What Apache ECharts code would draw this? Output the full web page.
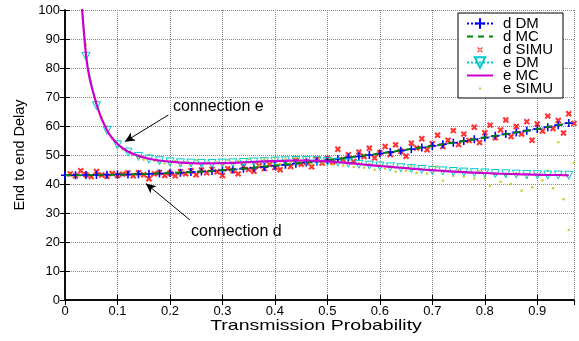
<!DOCTYPE html>
<html>
<head>
<meta charset="utf-8">
<script src="https://cdn.jsdelivr.net/npm/echarts@6/dist/echarts.min.js"></script>
<style>
  html, body { margin: 0; padding: 0; background: #fff; }
  #delayChart { width: 579px; height: 341px; }
</style>
</head>
<body>
<div id="delayChart"></div>
<script>
// analytic / MC curves, sampled every 0.02
const xGrid = [0.00, 0.02, 0.04, 0.06, 0.08, 0.10, 0.12, 0.14, 0.16, 0.18, 0.20, 0.22, 0.24, 0.26, 0.28,
  0.30, 0.32, 0.34, 0.36, 0.38, 0.40, 0.42, 0.44, 0.46, 0.48, 0.50, 0.52, 0.54, 0.56, 0.58,
  0.60, 0.62, 0.64, 0.66, 0.68, 0.70, 0.72, 0.74, 0.76, 0.78, 0.80, 0.82, 0.84, 0.86, 0.88,
  0.90, 0.92, 0.94, 0.96]
const dDM = [43.0, 43.0, 43.1, 43.1, 43.2, 43.3, 43.3, 43.4, 43.5, 43.6, 43.8, 43.9, 44.1, 44.3, 44.5,
  44.7, 45.0, 45.3, 45.6, 45.9, 46.3, 46.6, 47.0, 47.4, 47.8, 48.2, 48.6, 49.1, 49.5, 50.0,
  50.5, 51.0, 51.5, 52.0, 52.6, 53.1, 53.7, 54.2, 54.8, 55.4, 56.0, 56.6, 57.2, 57.8, 58.4,
  59.0, 59.6, 60.3, 61.0]
const dMC = [43.0, 43.0, 43.0, 43.1, 43.2, 43.2, 43.3, 43.4, 43.5, 43.7, 43.8, 44.0, 44.1, 44.3, 44.5,
  44.8, 45.0, 45.3, 45.6, 46.0, 46.3, 46.7, 47.0, 47.4, 47.8, 48.2, 48.7, 49.1, 49.6, 50.0,
  50.5, 51.0, 51.5, 52.1, 52.6, 53.1, 53.7, 54.3, 54.8, 55.4, 56.0, 56.6, 57.2, 57.8, 58.4,
  59.0, 59.7, 60.3, 61.0]
const eDM = [null, 135, 84, 67, 58.5, 53.5, 51, 49.5, 48.6, 48, 47.6, 47.3, 47.2, 47.1, 47.1,
  47.2, 47.3, 47.4, 47.6, 47.7, 47.9, 48.0, 48.1, 48.1, 48.0, 47.8, 47.5, 47.2, 46.8, 46.5,
  46.2, 45.9, 45.6, 45.3, 45.0, 44.7, 44.5, 44.3, 44.1, 43.9, 43.8, 43.6, 43.5, 43.4, 43.3,
  43.2, 43.1, 43.1, 43.0]
const eMC = [null, 140, 84.5, 67.5, 58.5, 53.8, 51.2, 49.7, 48.7, 48.1, 47.7, 47.4, 47.2, 47.1, 47.1,
  47.2, 47.3, 47.5, 47.6, 47.8, 47.9, 48.0, 48.1, 48.1, 48.0, 47.8, 47.5, 47.2, 46.9, 46.5,
  46.2, 45.9, 45.6, 45.3, 45.0, 44.8, 44.5, 44.3, 44.1, 43.9, 43.8, 43.6, 43.5, 43.4, 43.3,
  43.2, 43.1, 43.1, 43.0]

// simulation points, every 0.01
const xSimu = [0.01, 0.02, 0.03, 0.04, 0.05, 0.06, 0.07, 0.08, 0.09, 0.10,
  0.11, 0.12, 0.13, 0.14, 0.15, 0.16, 0.17, 0.18, 0.19, 0.20,
  0.21, 0.22, 0.23, 0.24, 0.25, 0.26, 0.27, 0.28, 0.29, 0.30,
  0.31, 0.32, 0.33, 0.34, 0.35, 0.36, 0.37, 0.38, 0.39, 0.40,
  0.41, 0.42, 0.43, 0.44, 0.45, 0.46, 0.47, 0.48, 0.49, 0.50,
  0.51, 0.52, 0.53, 0.54, 0.55, 0.56, 0.57, 0.58, 0.59, 0.60,
  0.61, 0.62, 0.63, 0.64, 0.65, 0.66, 0.67, 0.68, 0.69, 0.70,
  0.71, 0.72, 0.73, 0.74, 0.75, 0.76, 0.77, 0.78, 0.79, 0.80,
  0.81, 0.82, 0.83, 0.84, 0.85, 0.86, 0.87, 0.88, 0.89, 0.90,
  0.91, 0.92, 0.93, 0.94, 0.95, 0.96, 0.97]
const dSimu = [43.5, 42.8, 44.6, 43.2, 42.6, 44.3, 43.1, 42.7, 43.6, 42.9,
  43.4, 43.8, 42.8, 43.9, 43.2, 41.8, 43.5, 44.0, 42.9, 43.7,
  42.8, 44.2, 43.5, 44.6, 43.2, 44.8, 43.9, 45.1, 44.2, 42.9,
  45.3, 44.6, 43.5, 46.1, 45.0, 44.4, 46.3, 45.3, 46.8, 45.7,
  44.9, 47.2, 46.0, 48.1, 46.8, 47.5, 45.9, 48.6, 47.2, 48.9,
  47.6, 52.0, 48.4, 50.1, 47.8, 51.0, 49.5, 52.3, 49.0, 50.8,
  52.9, 50.2, 53.5, 51.3, 49.6, 54.1, 52.4, 55.6, 51.8, 53.9,
  56.8, 52.9, 55.1, 58.4, 53.6, 57.2, 55.0, 59.6, 54.3, 57.7,
  60.3, 55.9, 58.6, 62.1, 56.4, 59.8, 57.2, 61.5, 55.1, 60.7,
  58.3, 63.4, 59.1, 61.9, 57.6, 64.2, 60.9]
const eSimu = [null, null, 101, 88, 75.3, 68.5, 63.2, 59.8, 55.6, 52.9,
  51.9, 51.1, 50.0, 49.2, 48.4, 50.1, 48.0, 47.7, 47.1, 46.6,
  47.9, 46.3, 47.6, 46.4, 48.2, 46.5, 47.3, 45.8, 47.5, 46.8,
  48.3, 46.2, 47.9, 46.8, 48.6, 47.1, 46.4, 48.5, 47.3, 48.9,
  47.0, 48.7, 47.5, 49.0, 47.6, 48.8, 46.9, 48.4, 47.2, 48.0,
  46.6, 48.2, 46.4, 47.7, 45.9, 47.2, 45.6, 46.9, 44.9, 46.6,
  45.3, 46.1, 44.2, 45.8, 44.6, 46.3, 43.8, 45.2, 43.6, 46.0,
  46.0, 41.1, 44.6, 42.8, 44.9, 42.5, 44.1, 41.9, 44.3, 42.0,
  39.3, 43.6, 40.8, 42.9, 40.0, 43.8, 37.7, 42.1, 38.9, 43.0,
  41.2, 44.6, 38.5, 54.4, 34.7, 24.1, 47.3]

function pairs(xs, ys) {
  const out = []
  xs.forEach((x, i) => {
    if (ys[i] !== null) out.push([x, ys[i]])
  })
  return out
}

const plus = 'path://M4,0H6V4H10V6H6V10H4V6H0V4H4Z'
const boldPlus = 'path://M3.5,0H6.5V3.5H10V6.5H6.5V10H3.5V6.5H0V3.5H3.5Z'
// legend icons sized to the 26x13 legend box so the marks stay small
const crossIcon = 'path://M0,0M26,13M10.3,4.9L11.2,4L15.7,8.5L14.8,9.4ZM15.7,4.9L14.8,4L10.3,8.5L11.2,9.4Z'
const dotIcon = 'path://M0,0M26,13M12,5.5H14V7.5H12Z'
const font = 'Liberation Sans'

const chart = echarts.init(document.getElementById('delayChart'))
const option = {
  animation: false,
  backgroundColor: '#fff',
  textStyle: { fontFamily: font, color: '#000' },
  grid: { left: 65, right: 5, top: 10, bottom: 41 },
  legend: {
    data: [
      { name: 'd DM' },
      { name: 'd MC', itemStyle: { opacity: 0 } },
      { name: 'd SIMU', icon: crossIcon },
      { name: 'e DM' },
      { name: 'e MC', itemStyle: { opacity: 0 } },
      { name: 'e SIMU', icon: dotIcon }
    ],
    orient: 'vertical',
    left: 458,
    top: 13,
    padding: [3, 10, 2, 8],
    itemGap: -2,
    itemWidth: 26,
    itemHeight: 13,
    backgroundColor: '#fff',
    borderColor: '#000',
    borderWidth: 1,
    textStyle: { fontFamily: font, fontSize: 15, color: '#000', lineHeight: 13, padding: [0, 0, 0, 5] }
  },
  xAxis: [
    {
      type: 'value',
      min: 0,
      max: 0.97,
      interval: 0.1,
      axisLine: { lineStyle: { color: '#000', width: 1.5 } },
      axisTick: { inside: true, length: 5, lineStyle: { color: '#000' } },
      axisLabel: { showMaxLabel: false, fontSize: 13, margin: 5, color: '#000' },
      splitLine: { show: true, lineStyle: { type: 'dotted', color: '#888' } }
    },
    {
      type: 'value',
      position: 'top',
      min: 0,
      max: 0.97,
      interval: 0.1,
      axisLine: { lineStyle: { color: '#000', width: 1.5 } },
      axisTick: { inside: true, length: 5, lineStyle: { color: '#000' } },
      axisLabel: { show: false },
      splitLine: { show: false }
    }
  ],
  yAxis: [
    {
      type: 'value',
      min: 0,
      max: 100,
      interval: 10,
      name: 'End to end Delay',
      nameLocation: 'middle',
      nameGap: 31,
      nameTextStyle: { fontSize: 14.5, fontFamily: font, color: '#000' },
      axisLine: { show: true, lineStyle: { color: '#000', width: 1.5 } },
      axisTick: { show: true, inside: true, length: 5, lineStyle: { color: '#000' } },
      axisLabel: { fontSize: 13, margin: 5, color: '#000' },
      splitLine: { show: true, lineStyle: { type: 'dotted', color: '#888' } }
    },
    {
      type: 'value',
      position: 'right',
      min: 0,
      max: 100,
      interval: 10,
      axisLine: { show: true, lineStyle: { color: '#000', width: 1.5 } },
      axisTick: { show: true, inside: true, length: 5, lineStyle: { color: '#000' } },
      axisLabel: { show: false },
      splitLine: { show: false }
    }
  ],
  series: [
    {
      name: 'd DM',
      type: 'line',
      data: pairs(xGrid, dDM),
      symbol: plus,
      symbolSize: 8,
      itemStyle: { color: '#0000ff' },
      lineStyle: { color: '#0000ff', width: 1, type: 'dotted' },
      z: 3
    },
    {
      name: 'd MC',
      type: 'line',
      data: pairs(xGrid, dMC),
      symbol: 'none',
      smooth: 0.4,
      itemStyle: { color: '#008000' },
      lineStyle: { color: '#008000', width: 2, type: [6, 5] },
      z: 4,
      markLine: {
        silent: true,
        symbol: ['none', 'arrow'],
        symbolSize: [7, 10],
        label: { show: false },
        lineStyle: { color: '#000', width: 1, type: 'solid' },
        data: [
          [{ coord: [0.197, 63.8] }, { coord: [0.114, 54.6] }],
          [{ coord: [0.238, 27.6] }, { coord: [0.154, 40.2] }]
        ]
      }
    },
    {
      name: 'd SIMU',
      type: 'scatter',
      data: pairs(xSimu, dSimu),
      symbol: boldPlus,
      symbolRotate: 45,
      symbolSize: 7,
      itemStyle: { color: '#ff0000' },
      z: 2
    },
    {
      name: 'e DM',
      type: 'line',
      data: pairs(xGrid, eDM),
      symbol: 'triangle',
      symbolRotate: 180,
      symbolSize: 8,
      itemStyle: { color: 'rgba(0,0,0,0)', borderColor: '#00c8c8', borderWidth: 1 },
      lineStyle: { color: '#00c8c8', width: 1, type: 'dotted' },
      z: 3
    },
    {
      name: 'e MC',
      type: 'line',
      data: pairs(xGrid, eMC),
      symbol: 'none',
      smooth: 0.4,
      itemStyle: { color: '#cc00cc' },
      lineStyle: { color: '#cc00cc', width: 2.2 },
      z: 5
    },
    {
      name: 'e SIMU',
      type: 'scatter',
      data: pairs(xSimu, eSimu),
      symbol: 'circle',
      symbolSize: 2.5,
      itemStyle: { color: '#c0c000' },
      z: 2
    }
  ],
  graphic: [
    {
      type: 'text',
      x: 316,
      y: 326,
      scaleX: 1.3,
      style: { text: 'Transmission Probability', font: '15px "Liberation Sans"', fill: '#000', align: 'center', verticalAlign: 'middle' }
    },
    {
      type: 'text',
      x: 173,
      y: 107,
      style: { text: 'connection e', font: '16px "Liberation Sans"', fill: '#000', verticalAlign: 'middle' }
    },
    {
      type: 'text',
      x: 191,
      y: 232,
      style: { text: 'connection d', font: '16px "Liberation Sans"', fill: '#000', verticalAlign: 'middle' }
    }
  ]
}
chart.setOption(option)
</script>
</body>
</html>
